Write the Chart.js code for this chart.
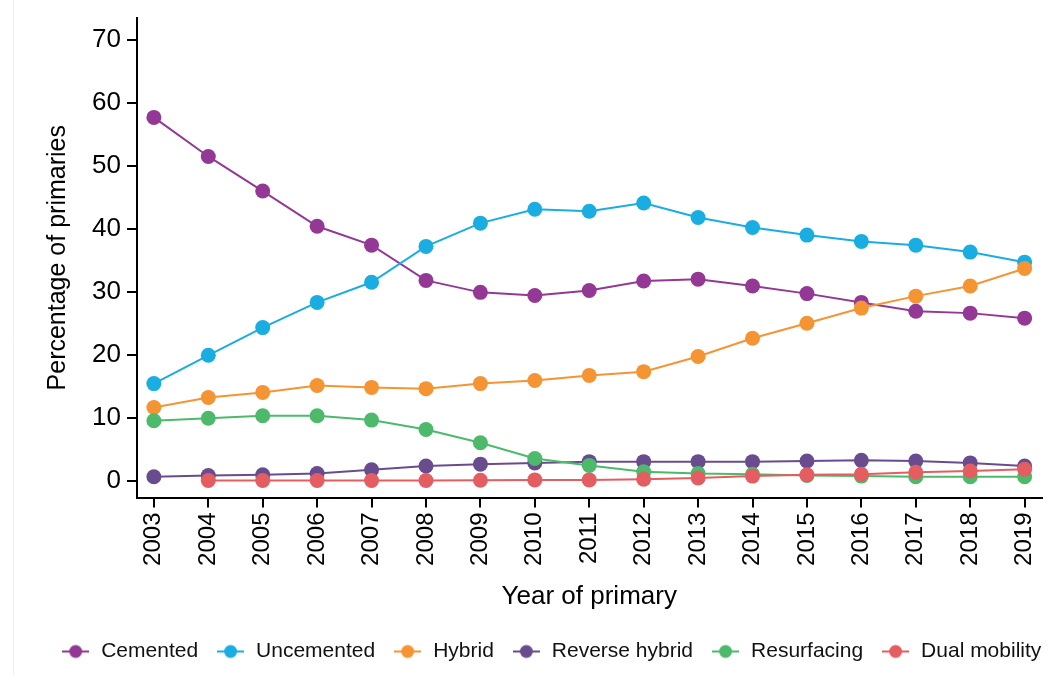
<!DOCTYPE html>
<html>
<head>
<meta charset="utf-8">
<script src="https://cdn.jsdelivr.net/npm/chart.js@4/dist/chart.umd.min.js"></script>
<style>
html,body{margin:0;padding:0;background:#fff;}
#wrap{width:1049px;height:675px;}
</style>
</head>
<body>
<div id="wrap"><canvas id="c" width="1049" height="675"></canvas></div>
<script>
const years = [2003,2004,2005,2006,2007,2008,2009,2010,2011,2012,2013,2014,2015,2016,2017,2018,2019];
const yTicks = [0,10,20,30,40,50,60,70];
const seriesNames = ["Cemented","Uncemented","Hybrid","Reverse hybrid","Resurfacing","Dual mobility"];
const cemented      = [57.7,51.5,46.0,40.4,37.4,31.8,29.9,29.4,30.2,31.7,32.0,30.9,29.7,28.3,26.9,26.6,25.8];
const uncemented    = [15.4,19.9,24.3,28.3,31.5,37.2,40.9,43.1,42.8,44.1,41.8,40.2,39.0,38.0,37.4,36.3,34.7];
const hybrid        = [11.6,13.2,14.0,15.1,14.8,14.6,15.4,15.9,16.7,17.3,19.7,22.6,25.0,27.4,29.3,30.9,33.7];
const reverseHybrid = [0.6,0.8,0.9,1.1,1.7,2.3,2.6,2.8,3.0,3.0,3.0,3.0,3.1,3.2,3.1,2.8,2.3];
const resurfacing   = [9.5,9.9,10.3,10.3,9.6,8.1,6.0,3.5,2.4,1.4,1.1,1.0,0.8,0.7,0.6,0.6,0.6];
const dualMobility  = [null,0.0,0.0,0.0,0.0,0.0,0.05,0.1,0.1,0.2,0.4,0.7,0.9,1.0,1.3,1.5,1.8];
const colors = ["#933995","#1aade2","#f59432","#694c8d","#4db96a","#e45d60"];
const allSeries = [cemented,uncemented,hybrid,reverseHybrid,resurfacing,dualMobility];

function legendIcon(color){
  const cv = document.createElement('canvas');
  cv.width = 27; cv.height = 16;
  const g = cv.getContext('2d');
  g.strokeStyle = color; g.lineWidth = 2;
  g.beginPath(); g.moveTo(0,8); g.lineTo(27,8); g.stroke();
  g.fillStyle = color;
  g.beginPath(); g.arc(13.5,8,6.5,0,Math.PI*2); g.fill();
  return cv;
}
const icons = colors.map(legendIcon);

const datasets = seriesNames.map((name,i)=>({
  label: name,
  data: years.map((y,j)=>({x:y, y:allSeries[i][j]})).filter(p=>p.y!==null),
  borderColor: colors[i],
  backgroundColor: colors[i],
  pointBackgroundColor: colors[i],
  pointBorderWidth: 0,
  pointRadius: 7.5,
  pointHoverRadius: 7.5,
  borderWidth: 2,
  tension: 0,
  pointStyle: 'circle',
  order: seriesNames.length - i
}));

const bgLine = {
  id:'bgLine',
  beforeDraw(chart){
    const ctx = chart.ctx;
    ctx.save();
    ctx.fillStyle = '#fff';
    ctx.fillRect(0,0,chart.width,chart.height);
    ctx.strokeStyle = '#e3f2f2';
    ctx.lineWidth = 1;
    ctx.beginPath(); ctx.moveTo(13.5,0); ctx.lineTo(13.5,chart.height); ctx.stroke();
    ctx.restore();
  }
};
const shiftLegend = {
  id:'shiftLegend',
  afterLayout(chart){
    const lg = chart.legend;
    if (lg) { lg.left += 30; lg.right += 30; }
  }
};

const FONT = "'Liberation Sans', Arial, sans-serif";
new Chart(document.getElementById('c'), {
  type: 'line',
  data: { datasets },
  plugins: [bgLine, shiftLegend],
  options: {
    responsive: false,
    animation: false,
    events: [],
    layout: { padding: { top: 18, right: 7, left: 0, bottom: 3 } },
    plugins: {
      tooltip: { enabled: false },
      legend: {
        position: 'bottom',
        labels: {
          usePointStyle: true,
          pointStyleWidth: 30,
          boxHeight: 16,
          padding: 17.5,
          color: '#111',
          font: { family: FONT, size: 21 },
          generateLabels(chart){
            return chart.data.datasets.map((ds,i)=>({
              text: ds.label, datasetIndex: i, pointStyle: icons[i],
              fillStyle: colors[i], strokeStyle: colors[i], lineWidth: 0, hidden: false, fontColor:'#111'
            }));
          }
        }
      }
    },
    scales: {
      x: {
        type: 'linear',
        min: 2002.69, max: 2019.31,
        afterBuildTicks(scale){ scale.ticks = years.map(v=>({value:v})); },
        afterFit(scale){ scale.height = 126; scale.paddingLeft = 0; scale.paddingRight = 0; },
        border: { display: true, color: '#000', width: 2 },
        grid: { display: true, drawOnChartArea: false, drawTicks: true, tickLength: 10, color: '#000', lineWidth: 2 },
        ticks: { color: '#000', font: { family: FONT, size: 24 }, minRotation: 90, maxRotation: 90, padding: 5,
                 callback: (v)=> String(v) },
        title: { display: true, text: 'Year of primary', color: '#000', font: { family: FONT, size: 26 }, padding: { top: 0, bottom: 11 } }
      },
      y: {
        min: -2.7, max: 73.5,
        afterBuildTicks(scale){ scale.ticks = yTicks.map(v=>({value:v})); },
        afterFit(scale){ scale.width = 137; scale.paddingTop = 0; scale.paddingBottom = 0; },
        border: { display: true, color: '#000', width: 2 },
        grid: { display: true, drawOnChartArea: false, drawTicks: true, tickLength: 10, color: '#000', lineWidth: 2 },
        ticks: { color: '#000', font: { family: FONT, size: 26 }, padding: 6, callback: (v)=> String(v) },
        title: { display: true, text: 'Percentage of primaries', color: '#000', font: { family: FONT, size: 25 }, padding: { top: 43, bottom: 0 } }
      }
    }
  }
});
</script>
</body>
</html>
